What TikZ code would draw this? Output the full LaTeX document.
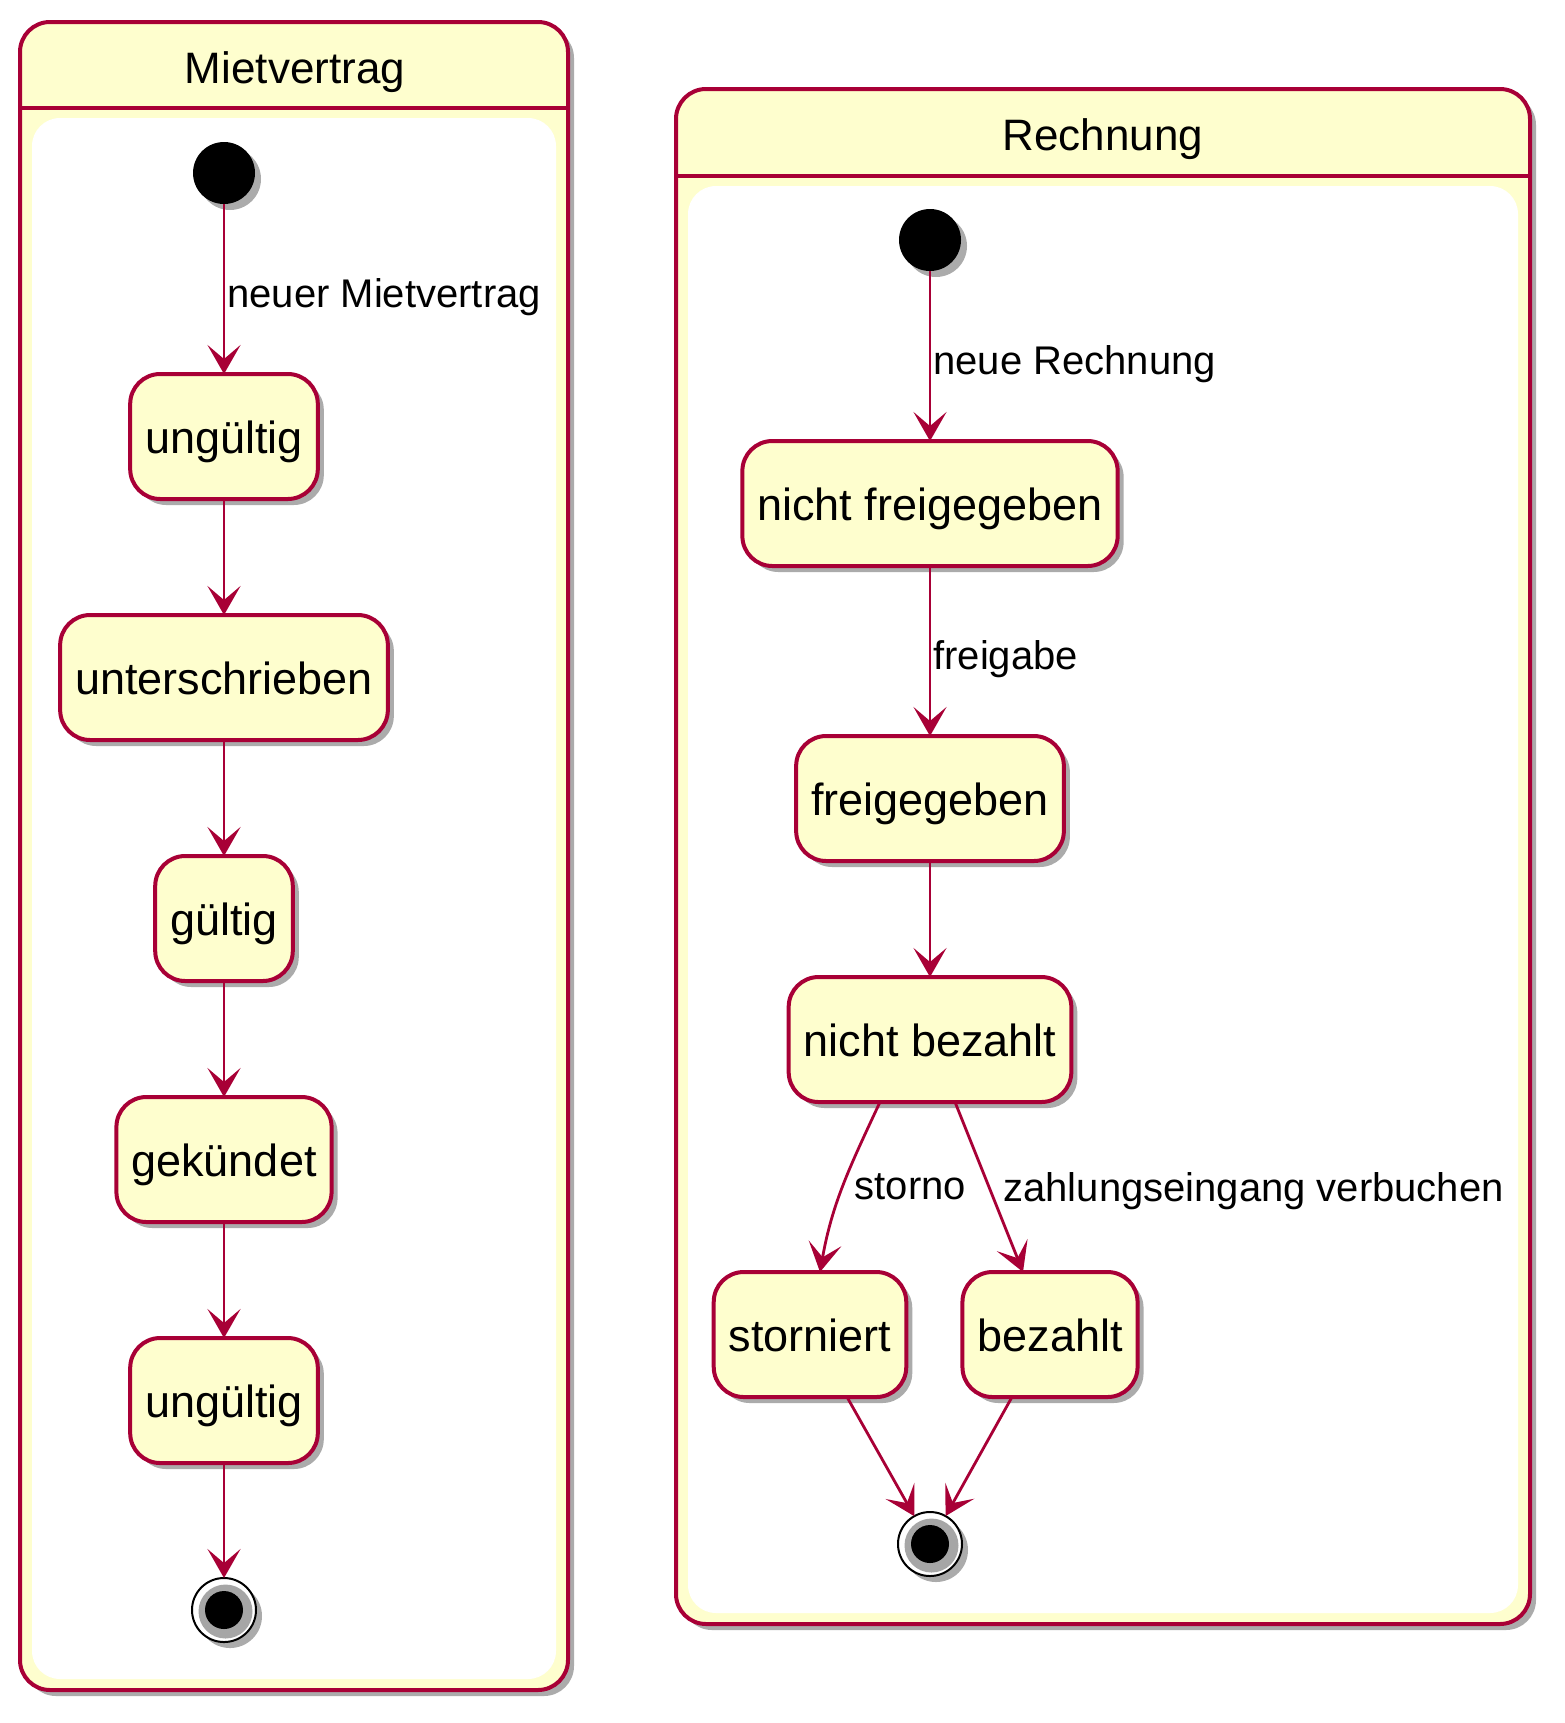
\documentclass[tikz,border=0pt]{standalone}
\usepackage{fontspec}
\setmainfont{Liberation Sans}
\usetikzlibrary{positioning,arrows.meta,shadows}
\definecolor{umlred}{HTML}{A80036}
\definecolor{umlyellow}{HTML}{FEFECE}
\tikzset{
  umlshadow/.style={drop shadow={shadow xshift=6bp,shadow yshift=-6bp,fill=black,opacity=0.33}},
  state/.style={draw=umlred,line width=4bp,fill=umlyellow,rounded corners=30bp,
    minimum height=125bp,inner xsep=15bp,outer sep=0pt,text height=33bp,text depth=0pt,
    font=\fontsize{45bp}{54bp}\selectfont,umlshadow},
  startstate/.style={circle,fill=black,minimum size=62bp,inner sep=0pt,outer sep=0pt,umlshadow},
  endstate/.style={circle,draw=black,line width=2bp,fill=white,minimum size=64bp,inner sep=0pt,outer sep=0pt,umlshadow},
  trans/.style={draw=umlred,line width=2.8bp,-{Stealth[length=29bp,width=33bp,inset=14bp]}},
  lbl/.style={font=\fontsize{40bp}{48bp}\selectfont,anchor=west,inner sep=2bp,text height=29bp,text depth=0pt},
  title/.style={font=\fontsize{44bp}{53bp}\selectfont},
  cbox/.style={draw=umlred,line width=4bp,fill=umlyellow,rounded corners=30bp,umlshadow},
  cline/.style={draw=umlred,line width=4bp},
  cinner/.style={fill=white,rounded corners=28bp}
}
\begin{document}
\begin{tikzpicture}[x=1bp,y=1bp]
  \useasboundingbox (0,0) rectangle (1565,-1723);

  % Mietvertrag
  \draw[cbox] (20,-22) rectangle (568,-1690);
  \draw[cline] (20,-108) -- (568,-108);
  \fill[cinner] (32,-118) rectangle (556,-1679);
  \node(mtitle) [title] at (295,-72) {Mietvertrag};

  \node(mstart) [startstate] at (224,-173) {};
  \node(ungueltig) [state, below=170bp of mstart] {ungültig};
  \node(unterschrieben) [state, below=116bp of ungueltig] {unterschrieben};
  \node(gueltig) [state, below=116bp of unterschrieben] {gültig};
  \node(gekuendet) [state, below=116bp of gueltig] {gekündet};
  \node(ungueltigzwei) [state, below=116bp of gekuendet] {ungültig};
  \node(mend) [endstate, below=115bp of ungueltigzwei] {};
  \fill[black!35] ([shift={(1.5bp,-1.5bp)}]mend.center) circle (27bp);
  \fill[black] (mend.center) circle (19bp);

  \draw[trans] (mstart) -- node[lbl,yshift=-4bp]{neuer Mietvertrag} (ungueltig);
  \draw[trans] (ungueltig) -- (unterschrieben);
  \draw[trans] (unterschrieben) -- (gueltig);
  \draw[trans] (gueltig) -- (gekuendet);
  \draw[trans] (gekuendet) -- (ungueltigzwei);
  \draw[trans] (ungueltigzwei) -- (mend);

  % Rechnung
  \draw[cbox] (676,-89) rectangle (1530,-1624);
  \draw[cline] (676,-176) -- (1530,-176);
  \fill[cinner] (688,-186) rectangle (1518,-1613);
  \node(rtitle) [title] at (1103,-139) {Rechnung};

  \node(rstart) [startstate] at (930,-240) {};
  \node(nfrei) [state, below=170bp of rstart] {nicht freigegeben};
  \node(frei) [state, below=170bp of nfrei] {freigegeben};
  \node(nbez) [state, below=116bp of frei] {nicht bezahlt};
  \node(storniert) [state, below=170bp of nbez, xshift=-120bp] {storniert};
  \node(bezahlt) [state, below=170bp of nbez, xshift=120bp] {bezahlt};
  \node(rend) [endstate, below=410bp of nbez] {};
  \fill[black!35] ([shift={(1.5bp,-1.5bp)}]rend.center) circle (27bp);
  \fill[black] (rend.center) circle (19bp);

  \draw[trans] (rstart) -- node[lbl,yshift=-4bp]{neue Rechnung} (nfrei);
  \draw[trans] (nfrei) -- node[lbl,yshift=-4bp]{freigabe} (frei);
  \draw[trans] (frei) -- (nbez);
  \draw[trans] ([xshift=-50bp]nbez.south) to[out=245,in=80]
    node[lbl,xshift=8bp]{storno} ([xshift=10bp]storniert.north);
  \draw[trans] ([xshift=25bp]nbez.south) --
    node[lbl,xshift=11bp]{zahlungseingang verbuchen} ([xshift=-27bp]bezahlt.north);
  \draw[trans] ([xshift=37bp]storniert.south) -- (rend);
  \draw[trans] ([xshift=-38bp]bezahlt.south) -- (rend);
\end{tikzpicture}
\end{document}
